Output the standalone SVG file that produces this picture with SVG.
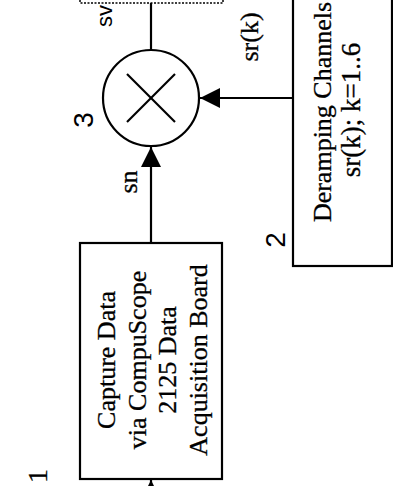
<svg xmlns="http://www.w3.org/2000/svg" width="393" height="486" viewBox="0 0 393 486">
<style>
.box{fill:#fff;stroke:#000;stroke-width:2.2}
.dot{fill:none;stroke:#000;stroke-width:1.5;stroke-dasharray:2 1.5}
.ln{fill:none;stroke:#000;stroke-width:2.2}
.t{font-family:"Liberation Serif","Times New Roman",serif;font-size:26px;fill:#000;stroke:#000;stroke-width:0.3;text-anchor:middle}
.s{font-family:"Liberation Sans",Arial,sans-serif;font-size:28px;fill:#000;text-anchor:middle}
</style>
<defs>
<marker id="ah" markerUnits="userSpaceOnUse" markerWidth="20" markerHeight="20" viewBox="0 0 20 20" refX="20" refY="10" orient="auto">
<path d="M0,0 L20,10 L0,20 z" fill="#000"/>
</marker>
</defs>
<rect width="393" height="486" fill="#fff"/>
<g id="connectors">
<line class="ln" x1="151" y1="243" x2="151" y2="147" marker-end="url(#ah)"/>
<line class="ln" x1="293" y1="98" x2="200" y2="98" marker-end="url(#ah)"/>
<line class="ln" x1="151" y1="50" x2="151" y2="3"/>
<line class="ln" x1="151" y1="505" x2="151" y2="480" marker-end="url(#ah)"/>
<text class="t" transform="translate(258,37) rotate(-90)">sr(k)</text>
<text class="t" transform="translate(137,182) rotate(-90)">sn</text>
<text class="s" style="font-size:22px;text-anchor:start" transform="translate(112,27) rotate(-90)">sv</text>
</g>
<g id="node-output">
<rect class="dot" x="80" y="-60" width="143" height="63"/>
</g>
<g id="node-multiplier">
<circle cx="151" cy="98" r="48" fill="#fff" stroke="#000" stroke-width="2.2"/>
<line class="ln" x1="127" y1="74" x2="175" y2="122"/>
<line class="ln" x1="175" y1="74" x2="127" y2="122"/>
<text class="s" transform="translate(93,120) rotate(-90)">3</text>
</g>
<g id="node-deramping">
<rect class="box" x="293" y="-50" width="99" height="316"/>
<text class="t" transform="translate(331,112) rotate(-90)">Deramping Channels</text>
<text class="t" style="font-size:27px" transform="translate(360,110) rotate(-90)">sr(k); k=1..6</text>
<text class="s" transform="translate(285,240) rotate(-90)">2</text>
</g>
<g id="node-capture">
<rect class="box" x="80" y="243" width="142" height="236"/>
<text class="t" transform="translate(115,360) rotate(-90)">Capture Data</text>
<text class="t" transform="translate(146,360) rotate(-90)">via CompuScope</text>
<text class="t" transform="translate(176,360) rotate(-90)">2125 Data</text>
<text class="t" transform="translate(207,360) rotate(-90)">Acquisition Board</text>
<text class="t" style="font-size:28px" transform="translate(47,476) rotate(-90)">1</text>
</g>
</svg>
